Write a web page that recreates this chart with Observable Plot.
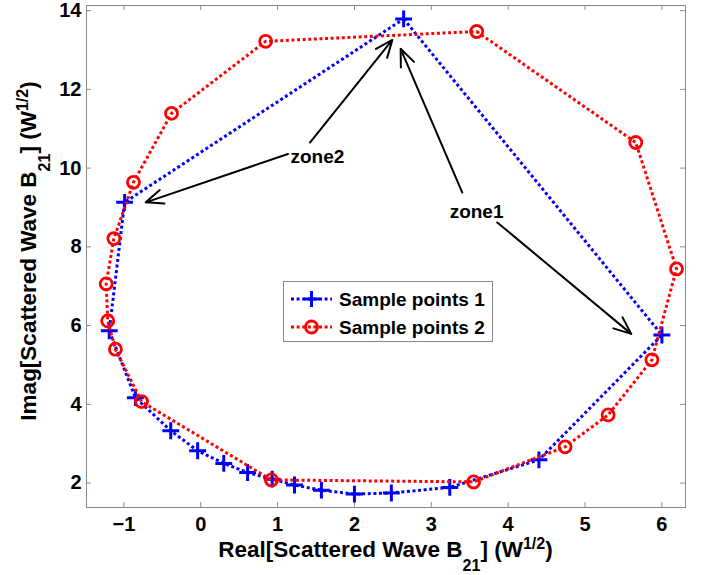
<!DOCTYPE html>
<html>
<head>
<meta charset="utf-8">
<script src="https://cdn.jsdelivr.net/npm/d3@7"></script>
<script src="https://cdn.jsdelivr.net/npm/@observablehq/plot@0.6"></script>
<style>
  html, body { margin: 0; padding: 0; background: #fff; }
  #chart { width: 711px; height: 575px; }
</style>
</head>
<body>
<div id="chart"></div>
<script>
// ---- data ----
const seriesNames = ["Sample points 1", "Sample points 2"];
const series1Real = [2.64, 6.00, 4.40, 3.24, 2.48, 2.00, 1.57, 1.22, 0.93, 0.61, 0.30, -0.04, -0.39, -0.85, -1.19, -0.99];
const series1Imag = [13.79, 5.76, 2.59, 1.89, 1.75, 1.72, 1.82, 1.95, 2.10, 2.27, 2.50, 2.82, 3.33, 4.17, 5.87, 9.13];
const series2Real = [3.59, 5.66, 6.19, 5.87, 5.30, 4.74, 3.55, 0.92, -0.77, -1.11, -1.21, -1.23, -1.13, -0.875, -0.38, 0.845];
const series2Imag = [13.47, 10.65, 7.44, 5.13, 3.73, 2.92, 2.03, 2.08, 4.07, 5.40, 6.12, 7.06, 8.21, 9.64, 11.39, 13.22];

const xTicks = [-1, 0, 1, 2, 3, 4, 5, 6];
const yTicks = [2, 4, 6, 8, 10, 12, 14];

const zoneLabels = ["zone2", "zone1"];
const zoneLabelX = [1.518, 3.589];
const zoneLabelY = [10.29, 8.875];

const arrowFromX = [1.135, 1.421, 3.403, 3.858];
const arrowFromY = [10.36, 10.65, 9.38, 8.62];
const arrowToX = [-0.715, 2.493, 2.601, 5.601];
const arrowToY = [9.13, 13.255, 13.03, 5.79];

// ---- build tables ----
const s1 = series1Real.map((x, i) => ({x, y: series1Imag[i]}));
const s2 = series2Real.map((x, i) => ({x, y: series2Imag[i]}));
const s1Closed = s1.concat([s1[0]]);
const s2Closed = s2.concat([s2[0]]);
const arrows = arrowFromX.map((x1, i) => ({x1, y1: arrowFromY[i], x2: arrowToX[i], y2: arrowToY[i]}));
const labels = zoneLabels.map((t, i) => ({t, x: zoneLabelX[i], y: zoneLabelY[i]}));

const BLUE = "#0000ff", RED = "#ff0000", AXC = "#8a8a8a";
const FONT = "'Liberation Sans', Arial, Helvetica, sans-serif";
const W = 711, H = 575, ML = 86, MR = 26, MT = 5, MB = 68;
const FW = W - ML - MR, FH = H - MT - MB, TL = 5;

const plot = Plot.plot({
  width: W, height: H,
  marginLeft: ML, marginRight: MR, marginTop: MT, marginBottom: MB,
  x: {domain: [-1.486, 6.307], label: null},
  y: {domain: [1.38, 14.13], label: null},
  style: {fontFamily: FONT, fontSize: "20px", fontWeight: "bold", color: "black", background: "white", overflow: "visible"},
  marks: [
    Plot.frame({stroke: AXC}),
    Plot.ruleX(xTicks, {x: d => d, insetTop: FH - TL, stroke: AXC}),
    Plot.ruleX(xTicks, {x: d => d, insetBottom: FH - TL, stroke: AXC}),
    Plot.ruleY(yTicks, {y: d => d, insetRight: FW - TL, stroke: AXC}),
    Plot.ruleY(yTicks, {y: d => d, insetLeft: FW - TL, stroke: AXC}),
    Plot.axisX(xTicks, {tickSize: 0, tickPadding: 9, label: null, fontSize: 20, fontWeight: "bold", fill: "black"}),
    Plot.axisY(yTicks, {tickSize: 0, tickPadding: 5, label: null, fontSize: 20, fontWeight: "bold", fill: "black"}),
    Plot.line(s1Closed, {x: "x", y: "y", stroke: BLUE, strokeWidth: 3, strokeDasharray: "3,2.6", strokeLinecap: "butt"}),
    Plot.dot(s1, {x: "x", y: "y", symbol: "plus", r: 5.5, stroke: BLUE, strokeWidth: 3}),
    Plot.line(s2Closed, {x: "x", y: "y", stroke: RED, strokeWidth: 3, strokeDasharray: "3,2.6", strokeLinecap: "butt"}),
    Plot.dot(s2, {x: "x", y: "y", symbol: "circle", r: 6, stroke: RED, strokeWidth: 2.8, fill: "none"}),
    Plot.arrow(arrows, {x1: "x1", y1: "y1", x2: "x2", y2: "y2", stroke: "black", strokeWidth: 2, headLength: 14, headAngle: 45}),
    Plot.text(labels, {x: "x", y: "y", text: "t", fontSize: 19, fontWeight: "bold", fill: "black"})
  ]
});
document.getElementById("chart").appendChild(plot);

// ---- axis titles with sub/superscripts ----
const svg = d3.select(plot);
function richLabel(g) {
  g.attr("font-family", FONT).attr("font-weight", "bold").attr("font-size", 22.5)
   .attr("text-anchor", "middle").attr("fill", "black");
}
const xl = svg.append("text").attr("x", ML + FW / 2).attr("y", 557).call(richLabel);
xl.append("tspan").text("Real[Scattered Wave B");
xl.append("tspan").attr("dy", 14).attr("font-size", 16).text("21");
xl.append("tspan").attr("dy", -14).text("] (W");
xl.append("tspan").attr("dy", -8).attr("font-size", 16).text("1/2");
xl.append("tspan").attr("dy", 8).text(")");

const yl = svg.append("text").attr("transform", `translate(36,251) rotate(-90)`).call(richLabel);
yl.append("tspan").text("Imag[Scattered Wave B");
yl.append("tspan").attr("dy", 14).attr("font-size", 16).text("21");
yl.append("tspan").attr("dy", -14).text("] (W");
yl.append("tspan").attr("dy", -8).attr("font-size", 16).text("1/2");
yl.append("tspan").attr("dy", 8).text(")");

// ---- legend ----
const lg = svg.append("g").attr("font-family", FONT).attr("font-weight", "bold").attr("font-size", 19);
lg.append("rect").attr("x", 283.5).attr("y", 281.5).attr("width", 209).attr("height", 60)
  .attr("fill", "white").attr("stroke", AXC);
const rows = [
  {name: seriesNames[0], color: BLUE, sym: "plus", cy: 299},
  {name: seriesNames[1], color: RED, sym: "circle", cy: 327}
];
rows.forEach(r => {
  lg.append("line").attr("x1", 291).attr("x2", 332).attr("y1", r.cy).attr("y2", r.cy)
    .attr("stroke", r.color).attr("stroke-width", 3).attr("stroke-dasharray", "3,2.6");
  if (r.sym === "plus") {
    lg.append("path").attr("d", `M${311.5 - 8},${r.cy}h16M311.5,${r.cy - 8}v16`)
      .attr("stroke", r.color).attr("stroke-width", 3).attr("fill", "none");
  } else {
    lg.append("circle").attr("cx", 311.5).attr("cy", r.cy).attr("r", 6)
      .attr("stroke", r.color).attr("stroke-width", 2.8).attr("fill", "none");
  }
  lg.append("text").attr("x", 339).attr("y", r.cy + 7).attr("text-anchor", "start")
    .attr("fill", "black").text(r.name);
});
</script>
</body>
</html>
